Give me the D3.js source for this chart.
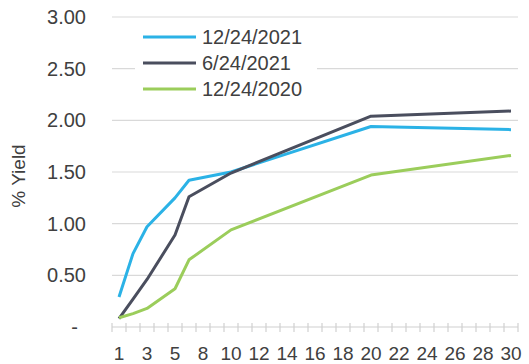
<!DOCTYPE html>
<html>
<head>
<meta charset="utf-8">
<script src="https://cdn.jsdelivr.net/npm/d3@7/dist/d3.min.js"></script>
<style>
  html, body { margin: 0; padding: 0; background: #fff; }
  svg { display: block; font-family: "Liberation Sans", Arial, sans-serif; }
</style>
</head>
<body>
<svg id="chart" width="529" height="364"></svg>
<script>
// ---- data ----
const categories = [1,2,3,4,5,7,8,9,10,11,12,13,14,15,16,17,18,19,20,21,22,23,24,25,26,27,28,29,30];
const seriesNames = ["12/24/2021", "6/24/2021", "12/24/2020"];
// values keyed by maturity (years); categories without a value are skipped
const maturities = [1, 2, 3, 5, 7, 10, 20, 30];
const yields2021Dec = [0.29, 0.71, 0.97, 1.25, 1.42, 1.50, 1.94, 1.91];
const yields2021Jun = [0.08, 0.27, 0.46, 0.89, 1.26, 1.49, 2.04, 2.09];
const yields2020Dec = [0.09, 0.13, 0.18, 0.37, 0.65, 0.94, 1.47, 1.66];
const yTicks = [0, 0.5, 1.0, 1.5, 2.0, 2.5, 3.0];
const yTickLabels = ["-", "0.50", "1.00", "1.50", "2.00", "2.50", "3.00"];
const xTickLabels = [1,3,5,8,10,12,14,16,18,20,22,24,26,28,30];
const yTitle = "% Yield";

// ---- drawing ----
const colors = ["#2bb2e6", "#4a4e5e", "#9bcd5b"];
const seriesValues = [yields2021Dec, yields2021Jun, yields2020Dec];

const svg = d3.select("#chart");
const x = d3.scaleBand().domain(categories).range([112, 518]).padding(0);
const y = d3.scaleLinear().domain([0, 3]).range([327, 17]);
const cx = c => x(c) + x.bandwidth() / 2;

// gridlines
svg.append("g").selectAll("line").data(yTicks.filter(t => t > 0)).join("line")
  .attr("x1", 112).attr("x2", 518)
  .attr("y1", d => y(d)).attr("y2", d => y(d))
  .attr("stroke", "#d9d9d9").attr("stroke-width", 1.2);

// y axis labels
svg.append("g").selectAll("text").data(yTicks).join("text")
  .attr("x", (d, i) => i === 0 ? 78 : 86)
  .attr("y", d => y(d))
  .attr("dy", "0.35em")
  .attr("text-anchor", "end")
  .attr("font-size", 20)
  .attr("fill", "#404040")
  .text((d, i) => yTickLabels[i]);

// y title
svg.append("text")
  .attr("transform", "translate(25,176) rotate(-90)")
  .attr("text-anchor", "middle")
  .attr("font-size", 19)
  .attr("fill", "#404040")
  .text(yTitle);

// x axis
const xAxis = svg.append("g");
xAxis.append("line")
  .attr("x1", 112).attr("x2", 518).attr("y1", y(0)).attr("y2", y(0))
  .attr("stroke", "#d0d0d0").attr("stroke-width", 1.2);
const boundaries = categories.map(c => x(c)).concat([x(categories[categories.length - 1]) + x.bandwidth()]);
xAxis.selectAll("line.tick").data(boundaries).join("line")
  .attr("class", "tick")
  .attr("x1", d => d).attr("x2", d => d)
  .attr("y1", y(0) - 4).attr("y2", y(0) + 5)
  .attr("stroke", "#d0d0d0").attr("stroke-width", 1.2);
xAxis.selectAll("text").data(xTickLabels).join("text")
  .attr("x", d => cx(d))
  .attr("y", 360)
  .attr("text-anchor", "middle")
  .attr("font-size", 19)
  .attr("fill", "#404040")
  .text(d => d);

// lines
const line = d3.line().x(d => cx(d.m)).y(d => y(d.v));
seriesValues.forEach((vals, i) => {
  const pts = maturities.map((m, j) => ({ m, v: vals[j] }));
  svg.append("path")
    .datum(pts)
    .attr("d", line)
    .attr("fill", "none")
    .attr("stroke", colors[i])
    .attr("stroke-width", 3)
    .attr("stroke-linejoin", "round");
});

// legend
const legend = svg.append("g");
legend.append("rect").attr("x", 135).attr("y", 22).attr("width", 182).attr("height", 82).attr("fill", "#fff");
const legY = [37, 63, 89];
seriesNames.forEach((name, i) => {
  legend.append("line")
    .attr("x1", 143).attr("x2", 196).attr("y1", legY[i]).attr("y2", legY[i])
    .attr("stroke", colors[i]).attr("stroke-width", 3);
  legend.append("text")
    .attr("x", 202).attr("y", legY[i]).attr("dy", "0.35em")
    .attr("font-size", 20).attr("fill", "#404040")
    .text(name);
});
</script>
</body>
</html>
